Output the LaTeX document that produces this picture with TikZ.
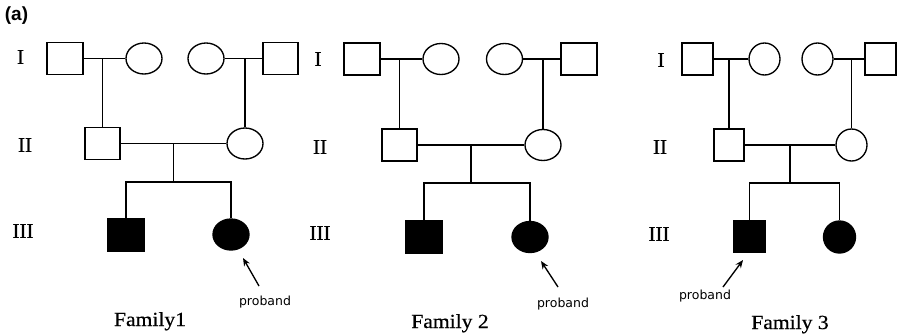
\documentclass[tikz,border=0pt]{standalone}
\usepackage{fontspec}
\setmainfont{Liberation Serif}
\newfontfamily\romfont[FakeBold=0.5]{Liberation Serif}
\newfontfamily\probfont{DejaVu Sans}
\newfontfamily\afont{Liberation Sans}
\newfontfamily\famfont[FakeStretch=1.08,FakeBold=0.6]{Liberation Serif}
\usetikzlibrary{shapes.geometric,arrows.meta,calc}
\begin{document}
\begin{tikzpicture}[x=1pt,y=-1pt,line width=1.35pt,
  male/.style={draw,rectangle,inner sep=0pt,minimum width=36pt,minimum height=32pt},
  female/.style={draw,ellipse,inner sep=0pt,minimum width=36pt,minimum height=31pt},
  aff/.style={fill=black},
  gen/.style={font=\romfont\fontsize{21}{21}\selectfont,inner sep=0pt},
  fam/.style={font=\famfont\fontsize{20}{20}\selectfont,inner sep=0pt,anchor=base},
  prob/.style={font=\probfont\fontsize{12.5}{12.5}\selectfont,inner sep=0pt},
  arr/.style={-{Stealth[length=8pt,width=6.5pt]},line width=1.35pt},
  small/.style={minimum width=31pt,minimum height=32pt}]
\useasboundingbox (0,0) rectangle (904,333);
\node[font=\afont\bfseries\fontsize{19}{19}\selectfont,inner sep=0pt] (lab) at (16.5,16) {(a)};

% ---------- Family 1 ----------
\node[gen] (f1g1) at (20.5,57) {I};
\node[gen] (f1g2) at (25,145) {II};
\node[gen] (f1g3) at (23,231) {III};
\node[male] (f1a) at (65,58.5) {};
\node[female] (f1b) at (144,58.5) {};
\node[female] (f1c) at (206,58.5) {};
\node[male,minimum width=35pt] (f1d) at (280.5,58.5) {};
\node[male,minimum width=35pt] (f1e) at (102.5,143.5) {};
\node[female] (f1f) at (245,143.5) {};
\node[male,aff] (f1g) at (126,235) {};
\node[female,aff] (f1h) at (231,234.5) {};
\draw (f1a.east) -- (f1b.west);
\draw (f1c.east) -- (f1d.west);
\draw (f1e.north) -- (f1e.north |- f1a.east);
\draw (f1f.north) -- (f1f.north |- f1d.west);
\draw (f1e.east) -- (f1f.west);
\coordinate (f1m) at ($(f1e.east)!0.5!(f1f.west)$);
\coordinate (f1s) at (f1m |- 0,182);
\draw (f1m) -- (f1s);
\draw (f1g.north) |- (f1s) -| (f1h.north);
\node[prob] (f1p) at (265,302) {proband};
\coordinate (f1p0) at (259,286);
\coordinate (f1p1) at (243,258);
\draw[arr] (f1p0) -- (f1p1);
\node[fam] (f1n) at (150,326) {Family1};

% ---------- Family 2 ----------
\node[gen] (f2g1) at (318,59) {I};
\node[gen] (f2g2) at (320,147) {II};
\node[gen] (f2g3) at (320,233) {III};
\node[male] (f2a) at (362,59) {};
\node[female] (f2b) at (441,59) {};
\node[female] (f2c) at (504.5,59) {};
\node[male] (f2d) at (579,59) {};
\node[male,minimum width=35pt] (f2e) at (399.5,145) {};
\node[female] (f2f) at (543,145) {};
\node[male,aff] (f2g) at (424,237) {};
\node[female,aff] (f2h) at (530,237) {};
\draw (f2a.east) -- (f2b.west);
\draw (f2c.east) -- (f2d.west);
\draw (f2e.north) -- (f2e.north |- f2a.east);
\draw (f2f.north) -- (f2f.north |- f2d.west);
\draw (f2e.east) -- (f2f.west);
\coordinate (f2m) at ($(f2e.east)!0.5!(f2f.west)$);
\coordinate (f2s) at (f2m |- 0,183);
\draw (f2m) -- (f2s);
\draw (f2g.north) |- (f2s) -| (f2h.north);
\node[prob] (f2p) at (563,304) {proband};
\coordinate (f2p0) at (558,287);
\coordinate (f2p1) at (541,261);
\draw[arr] (f2p0) -- (f2p1);
\node[fam] (f2n) at (450,328) {Family 2};

% ---------- Family 3 ----------
\node[gen] (f3g1) at (661,60) {I};
\node[gen] (f3g2) at (660,147) {II};
\node[gen] (f3g3) at (659,234) {III};
\node[male,small] (f3a) at (697.5,59) {};
\node[female,small] (f3b) at (764.5,59) {};
\node[female,small] (f3c) at (817.5,59) {};
\node[male,small] (f3d) at (880.5,59) {};
\node[male,small,minimum width=30pt] (f3e) at (729,145) {};
\node[female,small] (f3f) at (851.5,145) {};
\node[male,small,aff,minimum height=31pt] (f3g) at (749.5,236.5) {};
\node[female,aff,minimum width=32pt,minimum height=32pt] (f3h) at (839.5,237) {};
\draw (f3a.east) -- (f3b.west);
\draw (f3c.east) -- (f3d.west);
\draw (f3e.north) -- (f3e.north |- f3a.east);
\draw (f3f.north) -- (f3f.north |- f3d.west);
\draw (f3e.east) -- (f3f.west);
\coordinate (f3m) at ($(f3e.east)!0.5!(f3f.west)$);
\coordinate (f3s) at (f3m |- 0,183);
\draw (f3m) -- (f3s);
\draw (f3g.north) |- (f3s) -| (f3h.north);
\node[prob] (f3p) at (705,296) {proband};
\coordinate (f3p0) at (723,287);
\coordinate (f3p1) at (743,260);
\draw[arr] (f3p0) -- (f3p1);
\node[fam] (f3n) at (790,329) {Family 3};
\end{tikzpicture}
\end{document}
